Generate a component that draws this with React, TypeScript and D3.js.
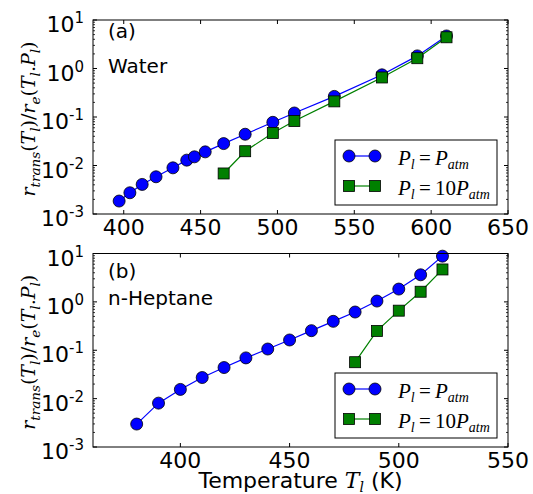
import React from "react";
import * as d3 from "d3";

// ---------- data ----------
const waterT_atm = [397, 404, 412, 421, 432, 441, 446, 453, 465, 479, 497, 511, 537, 568, 591, 610];
const waterR_atm = [0.00185, 0.00274, 0.00407, 0.00585, 0.00895, 0.0129, 0.0151, 0.0191, 0.0283, 0.0441, 0.0777, 0.121, 0.266, 0.741, 1.82, 4.69];
const waterT_10 = [465, 479, 497, 511, 537, 568, 591, 610];
const waterR_10 = [0.00685, 0.0197, 0.0469, 0.0828, 0.21, 0.653, 1.63, 4.4];

const heptT_atm = [380, 390, 400, 410, 420, 430, 440, 450, 460, 470, 480, 490, 500, 510, 520];
const heptR_atm = [0.00298, 0.00807, 0.0155, 0.0273, 0.0439, 0.0695, 0.106, 0.163, 0.254, 0.396, 0.617, 1.04, 1.84, 3.63, 8.81];
const heptT_10 = [480, 490, 500, 510, 520];
const heptR_10 = [0.0566, 0.251, 0.658, 1.62, 4.68];

const waterXTicks = [400, 450, 500, 550, 600, 650];
const heptXTicks = [400, 450, 500, 550];
const yTickExps = [-3, -2, -1, 0, 1];

const panelTags = ["(a)", "(b)"];
const panelNames = ["Water", "n-Heptane"];

const BLUE = "#0000ff";
const GREEN = "#008000";
const SANS = "DejaVu Sans, sans-serif";
const MATH = "DejaVu Serif, serif";
const LEGMATH = "Liberation Serif, serif";

type Seg = { t: string; it?: boolean; sub?: boolean };

function MathSpans({ segs, subSize, shift }: { segs: Seg[]; subSize: number; shift: number }) {
  let cur = 0;
  return (
    <>
      {segs.map((s, i) => {
        const target = s.sub ? shift : 0;
        const dy = target - cur;
        cur = target;
        return (
          <tspan
            key={i}
            dy={dy}
            fontStyle={s.it ? "italic" : "normal"}
            fontSize={s.sub ? subSize : undefined}
          >
            {s.t}
          </tspan>
        );
      })}
    </>
  );
}

const yLabelSegs: Seg[] = [
  { t: "r", it: true },
  { t: "trans", it: true, sub: true },
  { t: "(" },
  { t: "T", it: true },
  { t: "l", it: true, sub: true },
  { t: ")/" },
  { t: "r", it: true },
  { t: "e", it: true, sub: true },
  { t: "(" },
  { t: "T", it: true },
  { t: "l", it: true, sub: true },
  { t: "." },
  { t: "P", it: true },
  { t: "l", it: true, sub: true },
  { t: ")" },
];

const leg1: Seg[] = [
  { t: "P", it: true },
  { t: "l", it: true, sub: true },
  { t: "\u2009=\u2009" },
  { t: "P", it: true },
  { t: "atm", it: true, sub: true },
];
const leg2: Seg[] = [
  { t: "P", it: true },
  { t: "l", it: true, sub: true },
  { t: "\u2009=\u200910" },
  { t: "P", it: true },
  { t: "atm", it: true, sub: true },
];

interface PanelProps {
  idx: number;
  xDomain: [number, number];
  xTicks: number[];
  top: number;
  bottom: number;
  s1: [number[], number[]];
  s2: [number[], number[]];
  tagY: number;
  nameY: number;
}

const LEFT = 93;
const RIGHT = 508;

function Panel({ idx, xDomain, xTicks, top, bottom, s1, s2, tagY, nameY }: PanelProps) {
  const x = d3.scaleLinear().domain(xDomain).range([LEFT, RIGHT]);
  const y = d3.scaleLog().domain([1e-3, 1e1]).range([bottom, top]);
  const line = d3
    .line<[number, number]>()
    .x((d) => x(d[0]))
    .y((d) => y(d[1]));
  const pts1: [number, number][] = s1[0].map((t, i) => [t, s1[1][i]]);
  const pts2: [number, number][] = s2[0].map((t, i) => [t, s2[1][i]]);

  const minor: number[] = [];
  for (let e = -3; e < 1; e++) for (let m = 2; m <= 9; m++) minor.push(m * Math.pow(10, e));

  const legTop = bottom - 74;
  const row1 = legTop + 16;
  const row2 = legTop + 46;
  const mk1 = 349;
  const mk2 = 375;

  return (
    <g>
      {/* series */}
      <path d={line(pts1) || ""} fill="none" stroke={BLUE} strokeWidth={1.2} />
      {pts1.map((d, i) => (
        <circle key={"c" + i} cx={x(d[0])} cy={y(d[1])} r={6} fill={BLUE} stroke="#000" strokeWidth={0.8} />
      ))}
      <path d={line(pts2) || ""} fill="none" stroke={GREEN} strokeWidth={1.2} />
      {pts2.map((d, i) => (
        <rect key={"s" + i} x={x(d[0]) - 5.5} y={y(d[1]) - 5.5} width={11} height={11} fill={GREEN} stroke="#000" strokeWidth={0.8} />
      ))}

      {/* frame */}
      <rect x={LEFT} y={top} width={RIGHT - LEFT} height={bottom - top} fill="none" stroke="#000" strokeWidth={1} />

      {/* x ticks */}
      {xTicks.map((t) => (
        <g key={"xt" + t}>
          <line x1={x(t)} x2={x(t)} y1={bottom} y2={bottom - 4} stroke="#000" />
          <line x1={x(t)} x2={x(t)} y1={top} y2={top + 4} stroke="#000" />
          <text x={x(t)} y={bottom + 21} textAnchor="middle" fontFamily={SANS} fontSize={22}>
            {t}
          </text>
        </g>
      ))}
      {/* y ticks */}
      {yTickExps.map((e) => {
        const yy = y(Math.pow(10, e));
        return (
          <g key={"yt" + e}>
            <line x1={LEFT} x2={LEFT + 4} y1={yy} y2={yy} stroke="#000" />
            <line x1={RIGHT} x2={RIGHT - 4} y1={yy} y2={yy} stroke="#000" />
            <text x={84} y={yy + 12} textAnchor="end" fontFamily={SANS} fontSize={22}>
              <tspan>10</tspan>
              <tspan fontSize={15} dy={-9}>
                {e < 0 ? "-" + Math.abs(e) : String(e)}
              </tspan>
            </text>
          </g>
        );
      })}
      {minor.map((v, i) => {
        const yy = y(v);
        return (
          <g key={"mn" + i}>
            <line x1={LEFT} x2={LEFT + 2} y1={yy} y2={yy} stroke="#000" strokeWidth={0.8} />
            <line x1={RIGHT} x2={RIGHT - 2} y1={yy} y2={yy} stroke="#000" strokeWidth={0.8} />
          </g>
        );
      })}

      {/* y label */}
      <text
        transform={`translate(35,${(top + bottom) / 2 + 2}) rotate(-90)`}
        textAnchor="middle"
        fontFamily={MATH}
        fontSize={19}
      >
        <MathSpans segs={yLabelSegs} subSize={13.5} shift={5} />
      </text>

      {/* annotations */}
      <text x={108} y={tagY} fontFamily={SANS} fontSize={20}>
        {panelTags[idx]}
      </text>
      <text x={108} y={nameY} fontFamily={SANS} fontSize={20}>
        {panelNames[idx]}
      </text>

      {/* legend */}
      <rect x={335} y={legTop} width={162} height={65} fill="#fff" stroke="#000" strokeWidth={1} />
      <line x1={mk1} x2={mk2} y1={row1} y2={row1} stroke={BLUE} strokeWidth={1.2} />
      <circle cx={mk1} cy={row1} r={6} fill={BLUE} stroke="#000" strokeWidth={0.8} />
      <circle cx={mk2} cy={row1} r={6} fill={BLUE} stroke="#000" strokeWidth={0.8} />
      <line x1={mk1} x2={mk2} y1={row2} y2={row2} stroke={GREEN} strokeWidth={1.2} />
      <rect x={mk1 - 5.5} y={row2 - 5.5} width={11} height={11} fill={GREEN} stroke="#000" strokeWidth={0.8} />
      <rect x={mk2 - 5.5} y={row2 - 5.5} width={11} height={11} fill={GREEN} stroke="#000" strokeWidth={0.8} />
      <text x={398} y={row1 + 9} fontFamily={LEGMATH} fontSize={21}>
        <MathSpans segs={leg1} subSize={14} shift={4} />
      </text>
      <text x={398} y={row2 + 9} fontFamily={LEGMATH} fontSize={21}>
        <MathSpans segs={leg2} subSize={14} shift={4} />
      </text>
    </g>
  );
}

export default function App() {
  return (
    <svg
      width={533}
      height={494}
      style={{ position: "absolute", left: 0, top: 0, background: "#fff" }}
    >
      <rect width={533} height={494} fill="#fff" />
      <Panel
        idx={0}
        xDomain={[380, 650]}
        xTicks={waterXTicks}
        top={20}
        bottom={214}
        s1={[waterT_atm, waterR_atm]}
        s2={[waterT_10, waterR_10]}
        tagY={38}
        nameY={73}
      />
      <Panel
        idx={1}
        xDomain={[360, 550]}
        xTicks={heptXTicks}
        top={253.5}
        bottom={447}
        s1={[heptT_atm, heptR_atm]}
        s2={[heptT_10, heptR_10]}
        tagY={278}
        nameY={305}
      />
      <text x={300.5} y={488} textAnchor="middle" fontFamily={SANS} fontSize={22}>
        <tspan>Temperature </tspan>
        <tspan fontFamily={MATH} fontStyle="italic">T</tspan>
        <tspan fontFamily={MATH} fontStyle="italic" fontSize={14} dy={4}>l</tspan>
        <tspan dy={-4}> (K)</tspan>
      </text>
    </svg>
  );
}
